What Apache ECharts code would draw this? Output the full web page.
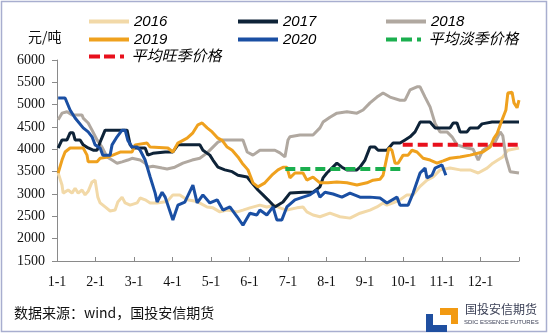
<!DOCTYPE html>
<html><head><meta charset="utf-8">
<script src="https://cdn.jsdelivr.net/npm/echarts@6/dist/echarts.min.js"></script>
<style>html,body{margin:0;padding:0;background:#fff}#c{width:550px;height:334px}</style>
</head><body><div id="c"></div>
<script>
// x = month offset from 1-1 (0..12), y = 元/吨
const monthLabels = ['1-1','2-1','3-1','4-1','5-1','6-1','7-1','8-1','9-1','10-1','11-1','12-1'];
const yTicks = [1500,2000,2500,3000,3500,4000,4500,5000,5500,6000];

const s2016 = [[0.03,3470],[0.13,3200],[0.16,3020],[0.29,3090],[0.39,3020],[0.47,3130],[0.55,3020],[0.65,3090],[0.73,2980],[0.81,3060],[0.91,3270],[0.99,3310],[1.06,2930],[1.12,2800],[1.25,2710],[1.38,2620],[1.51,2640],[1.58,2820],[1.69,2930],[1.77,2800],[1.90,2750],[2.08,2800],[2.16,2910],[2.29,2870],[2.42,2800],[2.60,2800],[2.86,2830],[3.01,2980],[3.19,2980],[3.38,2870],[3.64,2830],[3.90,2710],[4.05,2690],[4.23,2600],[4.42,2640],[4.68,2600],[4.83,2640],[5.01,2690],[5.27,2750],[5.45,2710],[5.66,2750],[5.79,2690],[5.97,2640],[6.23,2690],[6.39,2710],[6.49,2600],[6.65,2530],[6.83,2490],[7.09,2570],[7.35,2490],[7.61,2460],[7.87,2570],[8.13,2640],[8.31,2710],[8.47,2800],[8.57,2750],[8.73,2800],[8.91,2870],[9.09,2980],[9.25,2980],[9.43,3170],[9.61,3310],[9.77,3380],[9.95,3540],[10.21,3580],[10.47,3540],[10.73,3540],[10.94,3470],[11.17,3580],[11.32,3690],[11.45,3760],[11.58,3830],[11.71,3980],[12.0,4030]];

const s2017 = [[0.03,4030],[0.13,4210],[0.26,4210],[0.34,4370],[0.42,4370],[0.47,4210],[0.60,4210],[0.68,4100],[0.81,4030],[0.94,3980],[1.04,3980],[1.12,4160],[1.25,4430],[1.58,4430],[1.82,4430],[1.90,4100],[1.97,4030],[2.29,4030],[2.36,3870],[2.49,3910],[2.81,3940],[3.01,3940],[3.14,4100],[3.71,4100],[3.79,3980],[3.97,3870],[4.05,3760],[4.18,3600],[4.36,3540],[4.55,3500],[4.70,3420],[4.94,3380],[5.06,3250],[5.22,3090],[5.35,2980],[5.48,2870],[5.66,2710],[5.71,2710],[5.87,2820],[6.05,3020],[6.39,3040],[6.65,3040],[6.83,3160],[6.91,3360],[7.01,3470],[7.14,3580],[7.27,3690],[7.40,3600],[7.53,3540],[7.79,3540],[7.87,3600],[8.00,3760],[8.13,4050],[8.26,4050],[8.34,3980],[8.57,3980],[8.73,4140],[8.91,4140],[9.04,4210],[9.17,4280],[9.30,4390],[9.43,4610],[9.69,4610],[9.82,4480],[10.21,4480],[10.29,4590],[10.39,4590],[10.47,4390],[10.65,4390],[10.73,4480],[10.94,4480],[11.04,4570],[11.30,4610],[12.0,4610]];

const s2018 = [[0.03,4660],[0.13,4810],[0.26,4840],[0.39,4770],[0.65,4770],[0.68,4700],[0.81,4590],[0.91,4430],[1.04,4210],[1.17,4050],[1.30,3830],[1.43,3760],[1.56,3690],[1.69,3720],[1.84,3760],[1.95,3800],[2.16,3760],[2.29,3690],[2.36,3600],[2.49,3620],[2.73,3580],[2.86,3560],[3.06,3600],[3.27,3690],[3.51,3760],[3.71,3800],[3.90,3920],[4.05,4050],[4.18,4160],[4.31,4210],[4.83,4210],[4.94,3940],[5.09,3870],[5.27,3980],[5.66,3980],[5.79,3920],[5.92,3830],[6.00,4210],[6.05,4280],[6.31,4320],[6.65,4320],[6.83,4480],[6.91,4610],[7.09,4720],[7.27,4810],[7.53,4840],[7.79,4810],[7.95,4880],[8.13,5040],[8.31,5170],[8.47,5260],[8.65,5170],[8.91,5100],[9.04,5100],[9.17,5330],[9.35,5400],[9.43,5400],[9.56,5170],[9.69,4950],[9.82,4580],[9.95,4390],[10.13,4390],[10.26,4280],[10.39,4100],[10.65,4030],[10.81,4000],[10.94,3760],[11.06,3980],[11.19,4050],[11.38,4160],[11.51,4390],[11.58,4300],[11.66,3830],[11.77,3500],[12.0,3470]];

const s2019 = [[0.03,3470],[0.13,3760],[0.21,3940],[0.34,4030],[0.68,4030],[0.78,3870],[0.81,3720],[1.04,3720],[1.12,3800],[1.32,3830],[1.45,3870],[1.64,3940],[1.95,3940],[2.03,4100],[2.34,4140],[2.42,4050],[2.88,4030],[3.01,3940],[3.14,4140],[3.38,4250],[3.53,4370],[3.66,4550],[3.77,4590],[3.90,4480],[4.03,4390],[4.18,4250],[4.29,4200],[4.42,4050],[4.55,3980],[4.70,3830],[4.81,3690],[4.96,3540],[5.09,3250],[5.22,3160],[5.40,3250],[5.58,3420],[5.74,3540],[5.87,3600],[5.97,3600],[6.05,3360],[6.18,3470],[6.39,3470],[6.49,3310],[6.65,3380],[6.83,3250],[7.04,3250],[7.27,3270],[7.53,3250],[7.79,3200],[8.05,3250],[8.21,3310],[8.39,3330],[8.47,3420],[8.57,3830],[8.62,4030],[8.70,3980],[8.78,3690],[8.86,3690],[8.99,3870],[9.12,3870],[9.22,3980],[9.35,3940],[9.51,3800],[9.69,3760],[9.87,3690],[10.03,3740],[10.21,3800],[10.47,3830],[10.73,3870],[11.06,3940],[11.25,4050],[11.35,4250],[11.43,4350],[11.56,4660],[11.66,4880],[11.71,5260],[11.82,5280],[11.87,5040],[11.95,4930],[12.0,5100]];

const s2020 = [[0.03,5150],[0.21,5150],[0.34,4880],[0.47,4700],[0.68,4480],[0.81,4390],[0.91,4280],[0.99,4100],[1.12,4030],[1.19,3870],[1.38,3870],[1.43,4100],[1.56,4280],[1.69,4430],[1.77,4430],[1.84,4200],[1.95,4050],[2.08,4050],[2.16,3980],[2.29,3760],[2.42,3380],[2.55,3020],[2.60,2820],[2.73,3040],[2.81,2930],[3.01,2420],[3.14,2750],[3.32,2820],[3.53,3200],[3.64,2800],[3.79,2980],[3.97,2800],[4.16,2870],[4.31,2640],[4.49,2710],[4.68,2490],[4.83,2300],[5.01,2570],[5.19,2530],[5.27,2640],[5.45,2530],[5.61,2710],[5.71,2420],[5.84,2420],[5.97,2710],[6.18,2870],[6.39,2930],[6.57,2980],[6.75,3090],[6.83,2930],[6.96,3040],[7.17,3000],[7.40,2930],[7.61,3020],[7.87,2930],[8.13,2930],[8.39,2910],[8.57,2800],[8.83,2930],[8.91,2750],[9.12,2750],[9.25,3020],[9.43,3470],[9.56,3580],[9.61,3360],[9.74,3420],[9.82,3580],[10.0,3650],[10.10,3420]];

const offSeason = [[5.93,3560],[9.02,3560]];
const peakSeason = [[8.98,4100],[12.0,4100]];

const chart = echarts.init(document.getElementById('c'), null, {renderer:'canvas'});
const serif = '"Liberation Serif","Times New Roman",serif';
const cjk = '"Noto Sans CJK SC","Noto Sans",sans-serif';
const legText = {fontFamily:'"Liberation Sans","Noto Sans CJK SC",sans-serif', fontStyle:'italic', fontSize:15, color:'#000', lineHeight:17};
const solidIcon = 'path://M0,0H40V4H0Z';
const dashIcon = 'path://M0,0H11V4H0Z M15,0H26V4H15Z M31,0H35V4H31Z';
function line(name, data, color, width, dashed, z){
  return {name, type:'line', data, showSymbol:false, symbol:'none', z,
    lineStyle:{color, width, type: dashed ? [10,5] : 'solid'}, itemStyle:{color}, animation:false};
}
// one legend component per item, laid out as a 3-column grid
function leg(left, top, name, dashed){
  return {orient:'horizontal', left, top, padding:0, itemWidth:40, itemHeight:4,
    data:[{name, icon: dashed ? dashIcon : solidIcon}],
    textStyle:legText, selectedMode:false};
}
const colX = [89, 238, 386], rowY = [13, 31, 48];
chart.setOption({
  animation:false,
  backgroundColor:'#fff',
  grid:{left:57, right:31, top:60, bottom:73, containLabel:false},
  legend:[
    leg(colX[0], rowY[0], '2016'), leg(colX[1], rowY[0], '2017'), leg(colX[2], rowY[0], '2018'),
    leg(colX[0], rowY[1], '2019'), leg(colX[1], rowY[1], '2020'), leg(colX[2], rowY[1], '平均淡季价格', true),
    leg(colX[0], rowY[2], '平均旺季价格', true)
  ],
  xAxis:{type:'value', min:0, max:12, interval:1,
    axisLine:{lineStyle:{color:'#8a8a8a', width:1}},
    axisTick:{inside:true, length:4, lineStyle:{color:'#8a8a8a'}},
    splitLine:{show:false},
    axisLabel:{margin:14, fontFamily:serif, fontSize:14, color:'#111',
      formatter:v => (v>=0 && v<monthLabels.length) ? monthLabels[v] : ''}},
  yAxis:{type:'value', min:yTicks[0], max:yTicks[yTicks.length-1], interval:500,
    axisLine:{show:true, lineStyle:{color:'#8a8a8a', width:1}},
    axisTick:{show:true, inside:false, length:5, lineStyle:{color:'#8a8a8a'}},
    splitLine:{show:false},
    axisLabel:{margin:12, fontFamily:serif, fontSize:14, color:'#111', formatter:v => String(v)}},
  series:[
    line('2016', s2016, '#F2D9A8', 3, false, 2),
    line('2018', s2018, '#B0A8A0', 3, false, 3),
    line('2017', s2017, '#0E2338', 3, false, 4),
    line('2019', s2019, '#EFA11E', 3, false, 5),
    line('2020', s2020, '#1A4FA3', 3, false, 6),
    line('平均淡季价格', offSeason, '#1BAF4F', 4, true, 7),
    line('平均旺季价格', peakSeason, '#E8101C', 4, true, 7)
  ],
  graphic:[
    {type:'rect', shape:{x:1.5, y:1.5, width:545, height:330}, style:{fill:'none', stroke:'#A8AECF', lineWidth:1.5}, silent:true},
    {type:'text', left:28, top:30, style:{text:'元/吨', font:'14px '+cjk, fill:'#111'}},
    {type:'text', left:14, top:306, style:{text:'数据来源：wind，国投安信期货', font:'14px '+cjk, fill:'#111'}},
    {type:'polygon', shape:{points:[[426,314],[433,314],[433,325],[447,325],[447,332],[426,332]]}, style:{fill:'#1F4FA0'}},
    {type:'polygon', shape:{points:[[440,308],[458,308],[458,324],[451,324],[451,315],[440,315]]}, style:{fill:'#F29A12'}},
    {type:'text', left:465, top:303, style:{text:'国投安信期货', font:'12px '+cjk, fill:'#3a3f55'}},
    {type:'text', left:464, top:319, style:{text:'SDIC ESSENCE FUTURES', font:'6px "Liberation Sans Narrow","Liberation Sans",sans-serif', fill:'#3a3f55'}}
  ]
});
</script></body></html>
